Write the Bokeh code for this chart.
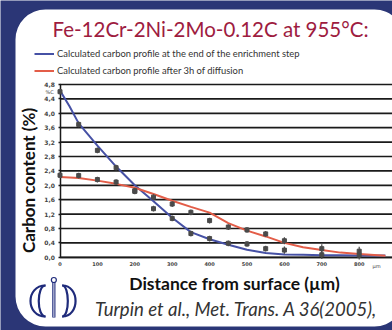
import math
from bokeh.plotting import figure
from bokeh.models import (Range1d, LinearAxis, FixedTicker, CustomJSTickFormatter,
                          Label, BoxAnnotation, Legend, LegendItem)
from bokeh.embed import file_html
from bokeh.resources import INLINE

# ---------------- data ----------------
calc_x = [0, 25, 50, 100, 150, 200, 250, 300, 350, 400, 450, 500, 550, 600, 650, 700, 750, 800, 870]
enrich_y = [4.63, 4.20, 3.72, 3.10, 2.52, 2.00, 1.56, 1.10, 0.70, 0.50, 0.35, 0.21, 0.12, 0.08, 0.07, 0.06, 0.06, 0.05, 0.05]
diffusion_y = [2.23, 2.22, 2.20, 2.13, 2.04, 1.93, 1.76, 1.57, 1.40, 1.24, 0.95, 0.74, 0.58, 0.40, 0.28, 0.20, 0.13, 0.09, 0.04]

meas_x = [0, 50, 100, 150, 200, 250, 300, 350, 400, 450, 500, 550, 600, 700, 800]
enrich_meas = [4.60, 3.69, 2.97, 2.49, 1.85, 1.35, 1.08, 0.66, 0.52, 0.39, 0.37, 0.24, 0.20, 0.07, 0.06]
diffusion_meas = [2.28, 2.27, 2.16, 2.09, 1.83, 1.67, 1.48, 1.25, 1.02, 0.84, 0.76, 0.65, 0.46, 0.24, 0.17]
meas_err = [0.08, 0.08, 0.08, 0.08, 0.08, 0.08, 0.08, 0.08, 0.08, 0.08, 0.08, 0.08, 0.10, 0.12, 0.12]

y_ticks = [0.0, 0.4, 0.8, 1.2, 1.6, 2.0, 2.4, 2.8, 3.2, 3.6, 4.0, 4.4, 4.8]
x_ticks = [0, 100, 200, 300, 400, 500, 600, 700, 800, 900]

legend_labels = ["Calculated carbon profile at the end of the enrichment step",
                 "Calculated carbon profile after 3h of diffusion"]
title_text = "Fe-12Cr-2Ni-2Mo-0.12C at 955°C:"
y_title = "Carbon content (%)"
x_title = "Distance from surface (µm)"
citation = "Turpin et al., Met. Trans. A 36(2005),"

# ---------------- styling / layout ----------------
W, H = 392, 330
X0_PX, PX_PER_UM = 59.5, 0.374      # canvas x of 0 µm, px per µm
Y0_PX, PX_PER_PCT = 256.8, 36.0     # canvas y of 0 %, px per %
X_END = (W - X0_PX) / PX_PER_UM
BG = "#2b3676"
NAVY = "#1f2b7b"
BLUE = "#4651a5"
RED = "#e35d48"
GRID = "#1a1a1a"
MARK = "#4a4a4a"
FONT = "Lato"

p = figure(width=W, height=H,
           x_range=Range1d(-X0_PX / PX_PER_UM, X_END),
           y_range=Range1d(-(H - Y0_PX) / PX_PER_PCT, Y0_PX / PX_PER_PCT),
           output_backend="svg", toolbar_location=None,
           x_axis_type=None, y_axis_type=None,
           min_border=0, background_fill_color=BG, border_fill_color=BG,
           outline_line_color=None)
p.min_border_left = p.min_border_right = p.min_border_top = p.min_border_bottom = 0
p.extra_x_ranges = {"px": Range1d(0, W)}
p.extra_y_ranges = {"px": Range1d(H, 0)}
PX = dict(x_range_name="px", y_range_name="px")

# white slide panel
p.add_layout(BoxAnnotation(left=15, right=404, top=9, bottom=326, fill_color="white",
                           fill_alpha=1.0, line_color=None, border_radius=30,
                           level="image", **PX))

# horizontal rules at the y ticks
p.segment(x0=[0] * len(y_ticks), y0=y_ticks, x1=[X_END] * len(y_ticks), y1=y_ticks,
          line_color=GRID, line_width=1.7, level="underlay")

# axes
yax = LinearAxis(fixed_location=0, bounds=(0, 4.8), ticker=FixedTicker(ticks=y_ticks),
                 formatter=CustomJSTickFormatter(code="return tick.toFixed(1).replace('.', ',');"),
                 major_tick_in=0, major_tick_out=2,
                 major_tick_line_color=GRID, major_tick_line_width=1.5,
                 minor_tick_line_color=None, axis_line_color=GRID, axis_line_width=1.5,
                 major_label_text_font_size="6px", major_label_text_color="#444",
                 major_label_text_font_style="bold", major_label_text_font="DejaVu Sans",
                 major_label_standoff=3, level="underlay")
p.add_layout(yax, "left")
xax = LinearAxis(fixed_location=0, bounds=(0, 900), ticker=FixedTicker(ticks=x_ticks),
                 major_tick_in=0, major_tick_out=0, minor_tick_line_color=None,
                 axis_line_color=GRID, axis_line_width=1.5,
                 major_label_text_font_size="5px", major_label_text_color="#444",
                 major_label_text_font_style="bold", major_label_text_font="DejaVu Sans",
                 major_label_standoff=5, level="underlay")
p.add_layout(xax, "below")

# calculated profiles
r_enrich = p.line(calc_x, enrich_y, line_color=BLUE, line_width=2)
r_diff = p.line(calc_x, diffusion_y, line_color=RED, line_width=2)

# measurements with error bars
for ys in (enrich_meas, diffusion_meas):
    lo = [y - e for y, e in zip(ys, meas_err)]
    hi = [y + e for y, e in zip(ys, meas_err)]
    p.segment(meas_x, lo, meas_x, hi, line_color=MARK, line_width=1.2)
    p.scatter(meas_x, ys, marker="square", size=4, fill_color=MARK, line_color=MARK)

legend = Legend(items=[LegendItem(label=legend_labels[0], renderers=[r_enrich]),
                       LegendItem(label=legend_labels[1], renderers=[r_diff])],
                location=(34, 251.5), glyph_width=20, glyph_height=17, label_height=17,
                spacing=0, padding=0, margin=0, label_standoff=3,
                border_line_color=None, background_fill_alpha=0,
                label_text_font_size="9.4px", label_text_color="#333", label_text_font=FONT)
p.add_layout(legend)

# logo
lg_x0 = [45.0, 45.0, 61.7, 61.7]
lg_off = [-20.0, -9.0, 17.8, 7.5]
lg_top, lg_bot = 285.0, 316.0
p.bezier(x0=lg_x0, y0=[lg_top] * 4, x1=lg_x0, y1=[lg_bot] * 4,
         cx0=[a + b for a, b in zip(lg_x0, lg_off)], cy0=[lg_top] * 4,
         cx1=[a + b for a, b in zip(lg_x0, lg_off)], cy1=[lg_bot] * 4,
         line_color=NAVY, line_width=2.2, **PX)
p.segment(x0=[53.35], y0=[282.0], x1=[53.35], y1=[317.0], line_color=NAVY, line_width=3.2, **PX)
p.segment(x0=[53.35], y0=[282.5], x1=[53.35], y1=[316.5], line_color="#c9cde3", line_width=1.2, **PX)
p.scatter(x=[53.35], y=[279.5], marker="circle", size=5, fill_color="white", line_color=NAVY,
          line_width=1.2, **PX)

# texts
p.add_layout(Label(x=210, y=28, text=title_text, text_align="center", text_baseline="middle",
                   text_font=FONT, text_font_size="20.5px", text_color="#9e1c3f", **PX))
p.add_layout(Label(x=28, y=180, text=y_title, angle=math.pi / 2, text_align="center",
                   text_baseline="middle", text_font=FONT, text_font_size="17px",
                   text_font_style="bold", text_color="#111", **PX))
p.add_layout(Label(x=234, y=283, text=x_title, text_align="center", text_baseline="middle",
                   text_font=FONT, text_font_size="17.5px", text_font_style="bold",
                   text_color="#111", **PX))
p.add_layout(Label(x=236, y=308, text=citation, text_align="center", text_baseline="middle",
                   text_font=FONT, text_font_size="18.6px", text_font_style="italic",
                   text_color="#333", **PX))
p.add_layout(Label(x=49, y=91, text="%C", text_align="center", text_baseline="middle",
                   text_font="DejaVu Sans", text_font_size="5px", text_color="#444", **PX))
p.add_layout(Label(x=376, y=265, text="µm", text_align="center", text_baseline="middle",
                   text_font="DejaVu Sans", text_font_size="5px", text_color="#444", **PX))

open("out.html", "w").write(file_html(p, INLINE))
